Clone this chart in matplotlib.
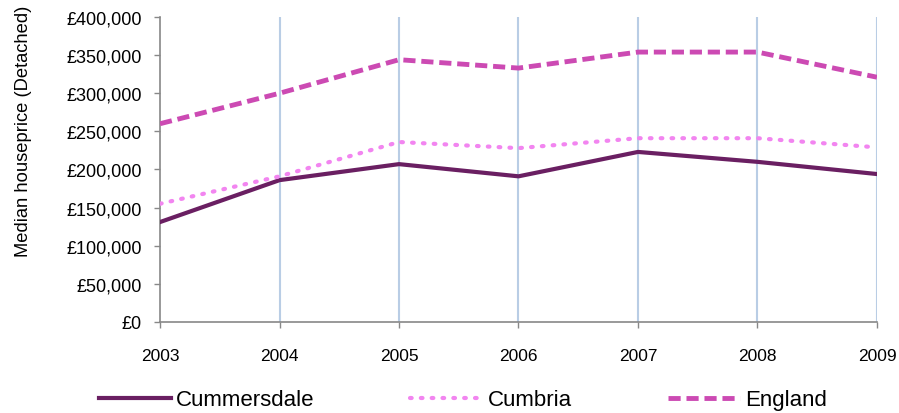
import matplotlib
matplotlib.use("Agg")
import matplotlib.pyplot as plt
from matplotlib.ticker import FuncFormatter

plt.rcParams['font.family'] = ['Liberation Sans', 'DejaVu Sans']

years = [2003, 2004, 2005, 2006, 2007, 2008, 2009]
cummersdale = [131000, 186000, 207000, 191000, 223000, 210000, 194000]
cumbria = [155000, 191000, 236000, 228000, 241000, 241000, 229000]
england = [260000, 300000, 344000, 333000, 354000, 354000, 321000]

fig = plt.figure(figsize=(8.99, 4.14), dpi=100)
ax = fig.add_axes([0.178, 0.22, 0.7975, 0.7365])

# vertical gridlines at each year
for yr in years[1:]:
    ax.axvline(yr, color='#B9CDE5', linewidth=1.5, zorder=1)

ax.plot(years, cummersdale, color='#6A1F62', linewidth=3, label='Cummersdale', zorder=3)
ax.plot(years, cumbria, color='#F285F0', linewidth=3, linestyle=(0, (0.4, 2.2)),
        dash_capstyle='round', label='Cumbria', zorder=3)
ax.plot(years, england, color='#CC4AB3', linewidth=3.5, linestyle=(0, (2.5, 1.2)),
        label='England', zorder=3)

ax.set_xlim(2003, 2009)
ax.set_ylim(0, 400000)
ax.set_xticks(years)
ax.set_yticks(range(0, 400001, 50000))
ax.yaxis.set_major_formatter(FuncFormatter(lambda v, p: '£{:,.0f}'.format(v)))
ax.tick_params(axis='both', color='#888888', length=4, width=1)
ax.tick_params(axis='y', labelsize=13, pad=9)
ax.tick_params(axis='x', labelsize=12.5, pad=15)
for s in ['top', 'right']:
    ax.spines[s].set_visible(False)
for s in ['left', 'bottom']:
    ax.spines[s].set_color('#888888')
    ax.spines[s].set_linewidth(1.2)

ax.set_ylabel('Median houseprice (Detached)', fontsize=13.2)
ax.yaxis.set_label_coords(-0.178, 0.628)

leg = fig.legend(loc='lower center', bbox_to_anchor=(0.515, -0.042), ncol=3, frameon=False,
                 fontsize=16, handlelength=3.25, handletextpad=0.25, columnspacing=4.3)

fig.savefig('out.png', dpi=100)
